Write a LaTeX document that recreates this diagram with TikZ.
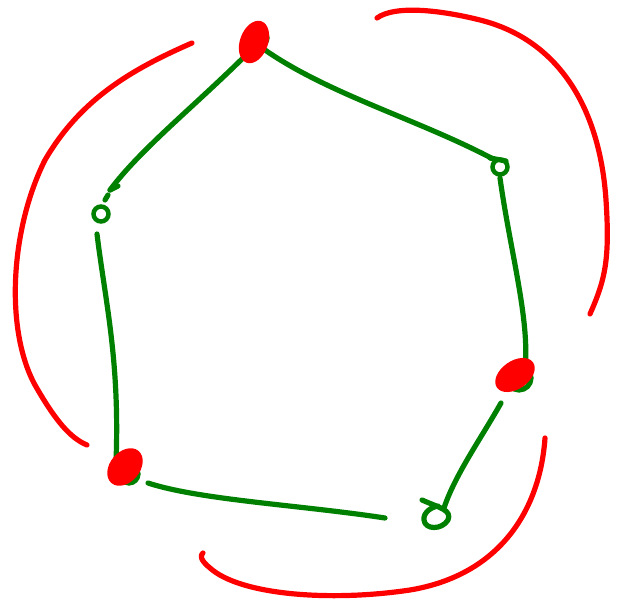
\documentclass[tikz,border=0pt]{standalone}
\usetikzlibrary{shapes.geometric}
\begin{document}
\begin{tikzpicture}[x=1pt,y=-1pt,
  gline/.style={draw={rgb,255:red,0;green,128;blue,0},line width=5.2pt,line cap=round,line join=round},
  rline/.style={draw=red,line width=5.2pt,line cap=round,line join=round},
  gvert/.style={circle,draw={rgb,255:red,0;green,128;blue,0},line width=4.5pt,minimum size=15pt,inner sep=0pt},
  rvert/.style={ellipse,fill=red,inner sep=0pt}]
\useasboundingbox (0,0) rectangle (619,612);
% vertices
\coordinate (A) at (254,42);
\coordinate (B) at (101,214);
\coordinate (C) at (125,467);
\coordinate (D) at (435,517);
\coordinate (E) at (515,375);
\coordinate (F) at (500,167);
% green edges
\draw[gline] (243,58) .. controls (190,110) and (140,150) .. (110,190);
\draw[gline] (110,190) -- (118,186);
\draw[gline] (265,50) .. controls (330,95) and (420,120) .. (495,160);
\draw[gline] (97,234) .. controls (105,300) and (120,360) .. (116,462);
\draw[gline] (500,178) .. controls (510,250) and (530,320) .. (525,368);
\draw[gline] (148,483) .. controls (200,500) and (300,505) .. (385,518);
\draw[gline] (501,403) .. controls (480,440) and (455,475) .. (444,508);
% green vertex loops
\node[gvert] (nB) at (B) {};
\draw[gline] (105,200) -- (108,195);
\node[gvert] (nF) at (F) {};
\draw[gline] (490,158) -- (506,161);
\draw[gline] (422,500) .. controls (440,508) and (452,510) .. (448,520)
   .. controls (442,530) and (425,530) .. (424,520) .. controls (423,512) and (432,507) .. (438,506);
% green under-stroke for red vertices
\draw[gline] (C) ++(4,7) circle[radius=9pt];
\draw[gline] (E) ++(4,3) circle[radius=12pt];
\draw[gline] (A) ++(6,-4) circle[radius=7pt];
% red vertices
\node[rvert,minimum width=28pt,minimum height=44pt,rotate=-20] (nA) at (A) {};
\node[rvert,minimum width=30pt,minimum height=42pt,rotate=-40] (nC) at (C) {};
\node[rvert,minimum width=44pt,minimum height=28pt,rotate=35] (nE) at (E) {};
% red arcs
\draw[rline] (192,43) .. controls (130,70) and (80,100) .. (45,160)
   .. controls (10,230) and (5,330) .. (35,385) .. controls (55,420) and (70,438) .. (87,445);
\draw[rline] (377,18) .. controls (395,5) and (440,10) .. (480,20)
   .. controls (560,40) and (600,110) .. (606,200) .. controls (610,260) and (605,280) .. (590,314);
\draw[rline] (545,438) .. controls (540,510) and (500,575) .. (410,590)
   .. controls (330,602) and (240,595) .. (210,568) .. controls (200,560) and (200,555) .. (203,553);
\end{tikzpicture}
\end{document}
